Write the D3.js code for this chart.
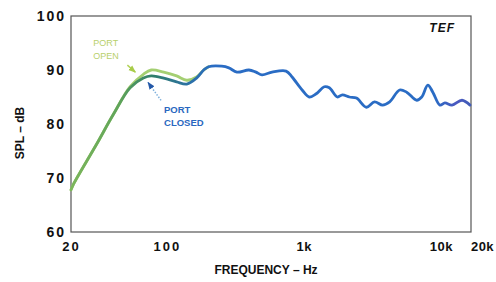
<!DOCTYPE html>
<html>
<head>
<meta charset="utf-8">
<script src="https://d3js.org/d3.v7.min.js"></script>
<style>
  body { margin: 0; background: #fff; }
  svg { display: block; font-family: "Liberation Sans", Arial, sans-serif; }
</style>
</head>
<body>
<div id="chart"></div>
<script>
// response curves (Hz, dB)
const freqClosed = [20, 20.7, 30.5, 40.6, 54, 67.5, 77, 95, 118, 140, 165, 186, 202, 252, 284, 325, 398, 448, 496, 587, 743, 822, 973, 1096, 1234, 1413, 1538, 1758, 1914, 2155, 2425, 2871, 3288, 3760, 4236, 5012, 5638, 6680, 7262, 8048, 8750, 9860, 10720, 12080, 14290, 16360];
const splClosed = [67.8, 68.7, 76.1, 81.7, 86.7, 88.5, 88.9, 88.5, 87.8, 87.4, 88.5, 90, 90.6, 90.7, 90.4, 89.6, 90, 89.6, 89.1, 89.6, 89.8, 88.7, 86.3, 85, 85.6, 86.9, 86.7, 85, 85.4, 85, 84.8, 83.1, 84.1, 83.5, 84.1, 86.3, 85.9, 84.4, 85, 87.2, 85.9, 83.5, 83.9, 83.5, 84.4, 83.5];

const freqOpen = [20, 20.7, 30.5, 40.6, 54, 67.5, 77, 95, 118, 140, 165, 186, 202];
const splOpen = [67.8, 68.7, 76.1, 81.7, 86.9, 89.2, 90, 89.6, 88.9, 88.1, 88.7, 90, 90.6];

const xTicks = [20, 100, 1000, 10000, 20000];
const xTickLabels = ["20", "100", "1k", "10k", "20k"];
const yTicks = [60, 70, 80, 90, 100];

const width = 496, height = 282;
const frame = {left: 71, top: 16, right: 471, bottom: 232};

const svg = d3.select("#chart").append("svg")
  .attr("width", width)
  .attr("height", height);

const x = d3.scaleLog().domain([20, 20000]).range([71, 482]);
const y = d3.scaleLinear().domain([60, 100]).range([frame.bottom, frame.top]);

// gradient along the closed curve: green in the bass, blue above
const defs = svg.append("defs");
const grad = defs.append("linearGradient")
  .attr("id", "closedGrad")
  .attr("gradientUnits", "userSpaceOnUse")
  .attr("x1", x(20)).attr("x2", x(20000))
  .attr("y1", 0).attr("y2", 0);
[[20, "#7cb65c"], [45, "#5fa45a"], [80, "#2f7d6c"], [150, "#2c70a8"], [220, "#2a6cc4"], [9000, "#2a6cc4"], [13000, "#4a58c0"], [20000, "#3a60b0"]]
  .forEach(([f, c]) => grad.append("stop")
    .attr("offset", (x(f) - x(20)) / (x(20000) - x(20)))
    .attr("stop-color", c));

defs.append("marker")
  .attr("id", "headOpen").attr("viewBox", "0 0 10 10")
  .attr("refX", 9).attr("refY", 5)
  .attr("markerWidth", 5).attr("markerHeight", 5)
  .attr("orient", "auto")
  .append("path").attr("d", "M0,1 L10,5 L0,9 Z").attr("fill", "#a8cc4a");
defs.append("marker")
  .attr("id", "headClosed").attr("viewBox", "0 0 10 10")
  .attr("refX", 9).attr("refY", 5)
  .attr("markerWidth", 5).attr("markerHeight", 5)
  .attr("orient", "auto")
  .append("path").attr("d", "M0,1 L10,5 L0,9 Z").attr("fill", "#2458a8");

// frame
svg.append("rect")
  .attr("x", frame.left).attr("y", frame.top)
  .attr("width", frame.right - frame.left)
  .attr("height", frame.bottom - frame.top)
  .attr("fill", "none")
  .attr("stroke", "#555")
  .attr("stroke-width", 1.2);

// y axis labels
const yAxis = svg.append("g")
  .attr("transform", `translate(${frame.left - 5},0)`)
  .call(d3.axisLeft(y).tickValues(yTicks).tickSize(0).tickPadding(0));
yAxis.select(".domain").remove();
yAxis.selectAll("text")
  .attr("font-family", "Liberation Sans, Arial, sans-serif")
  .attr("font-size", 14)
  .attr("font-weight", "bold")
  .attr("letter-spacing", 2)
  .attr("fill", "#111");

// x axis labels
const xAxis = svg.append("g")
  .attr("transform", `translate(0,${frame.bottom + 7})`)
  .call(d3.axisBottom(x).tickValues(xTicks)
    .tickFormat((d, i) => xTickLabels[i]).tickSize(0));
xAxis.select(".domain").remove();
xAxis.selectAll("text")
  .attr("font-family", "Liberation Sans, Arial, sans-serif")
  .attr("font-size", 13)
  .attr("font-weight", "bold")
  .attr("letter-spacing", (d, i) => i < 2 ? 2 : 0.5)
  .attr("fill", "#111");

// axis titles
svg.append("text")
  .attr("transform", `translate(24,${(frame.top + frame.bottom) / 2 + 9}) rotate(-90)`)
  .attr("text-anchor", "middle")
  .attr("font-size", 12).attr("font-weight", "bold").attr("fill", "#111")
  .text("SPL – dB");
svg.append("text")
  .attr("x", 266).attr("y", 274)
  .attr("text-anchor", "middle")
  .attr("font-size", 12).attr("font-weight", "bold").attr("fill", "#111")
  .text("FREQUENCY – Hz");

svg.append("text")
  .attr("x", frame.right - 16).attr("y", 32)
  .attr("text-anchor", "end")
  .attr("font-size", 12).attr("font-weight", "bold").attr("font-style", "italic")
  .attr("letter-spacing", 1)
  .attr("fill", "#111")
  .text("TEF");

const line = d3.line()
  .x(d => x(d[0]))
  .y(d => y(d[1]))
  .curve(d3.curveCatmullRom.alpha(0.5));

svg.append("path")
  .datum(freqOpen.map((f, i) => [f, splOpen[i]]))
  .attr("d", line)
  .attr("fill", "none")
  .attr("stroke", "#a4cf72")
  .attr("stroke-width", 2.8)
  .attr("stroke-linecap", "round");

svg.append("path")
  .datum(freqClosed.map((f, i) => [f, splClosed[i]]))
  .attr("d", line)
  .attr("fill", "none")
  .attr("stroke", "url(#closedGrad)")
  .attr("stroke-width", 2.8)
  .attr("stroke-linecap", "round")
  .attr("stroke-linejoin", "round");

// annotations
const openAt = [x(59), y(89.6)];
svg.append("line")
  .attr("x1", openAt[0] - 8).attr("y1", openAt[1] - 7)
  .attr("x2", openAt[0]).attr("y2", openAt[1])
  .attr("stroke", "#b4d45a").attr("stroke-width", 1.5)
  .attr("marker-end", "url(#headOpen)");
svg.append("text")
  .attr("font-size", 9).attr("fill", "#b8d06c")
  .selectAll("tspan").data(["PORT", "OPEN"]).join("tspan")
  .attr("x", openAt[0] - 42)
  .attr("y", (d, i) => openAt[1] - 26 + i * 13)
  .text(d => d);

const closedAt = [x(73), y(87.7)];
svg.append("line")
  .attr("x1", closedAt[0] + 13).attr("y1", closedAt[1] + 18)
  .attr("x2", closedAt[0]).attr("y2", closedAt[1])
  .attr("stroke", "#7fb0dc").attr("stroke-width", 1.5)
  .attr("stroke-dasharray", "1.5,1.5")
  .attr("marker-end", "url(#headClosed)");
svg.append("text")
  .attr("font-size", 9.5).attr("font-weight", "bold").attr("fill", "#2a68c0")
  .selectAll("tspan").data(["PORT", "CLOSED"]).join("tspan")
  .attr("x", closedAt[0] + 16)
  .attr("y", (d, i) => closedAt[1] + 31 + i * 13)
  .text(d => d);
</script>
</body>
</html>
